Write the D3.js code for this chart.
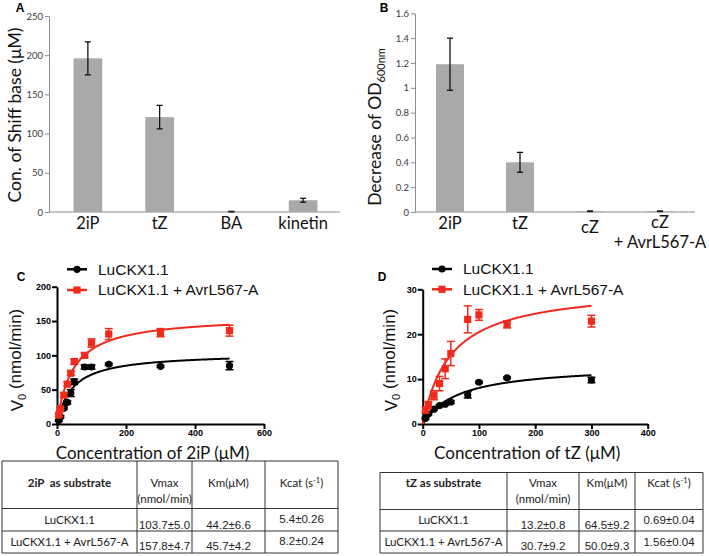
<!DOCTYPE html>
<html><head><meta charset="utf-8">
<script src="https://cdn.jsdelivr.net/npm/d3@7"></script>
<style>body{margin:0;background:#fff} svg{display:block} text{white-space:pre}</style>
</head><body><svg id="c" width="709" height="556"></svg>
<script>
// ---------- DATA ----------
// Panel A
const catsA = ["2iP", "tZ", "BA", "kinetin"];
const valsA = [196, 121, 0.5, 15];
const errA = [21, 15, 0.3, 2.5];
const ticksA = [0, 50, 100, 150, 200, 250];
// Panel B
const catsB = ["2iP", "tZ", "cZ", "cZ\n+ AvrL567-A"];
const valsB = [1.19, 0.40, 0.006, 0.006];
const errB = [0.21, 0.08, 0.002, 0.002];
const ticksB = [0, 0.2, 0.4, 0.6, 0.8, 1, 1.2, 1.4, 1.6];
// Panel C (2iP)
const seriesNames = ["LuCKX1.1", "LuCKX1.1 + AvrL567-A"];
const concC = [5, 10, 20, 30, 40, 50, 80, 100, 150, 300, 500];
const vC_black = [5, 10.5, 23, 31.5, 45, 61.5, 83, 83, 87, 84, 85];
const eC_black = [1, 1.5, 1.5, 2, 5, 4, 3, 3, 1.5, 1.5, 6];
const vC_red = [13, 22, 42, 58, 74, 91, 100, 118, 131, 133, 136];
const eC_red = [2, 2, 3, 3, 3, 4, 3, 6, 8, 6, 8];
const xTicksC = [0, 200, 400, 600];
const yTicksC = [0, 50, 100, 150, 200];
const vmaxC = [103.7, 157.8];
const kmC = [44.2, 45.7];
// Panel D (tZ)
const concD = [5, 10, 20, 30, 40, 50, 80, 100, 150, 300];
const vD_black = [1.3, 2.2, 3.3, 4.1, 4.4, 4.9, 6.5, 9.3, 10.3, 9.8];
const eD_black = [0.2, 0.2, 0.2, 0.2, 0.2, 0.3, 0.7, 0.2, 0.2, 0.6];
const vD_red = [3.1, 4.2, 6.4, 9.0, 12.3, 15.7, 23.3, 24.3, 22.2, 22.9];
const eD_red = [0.6, 0.8, 1.0, 1.6, 2.2, 2.7, 3.0, 1.2, 0.8, 1.3];
const xTicksD = [0, 100, 200, 300, 400];
const yTicksD = [0, 10, 20, 30];
const vmaxD = [13.2, 30.7];
const kmD = [64.5, 50.0];
// Tables
const headC = ["2iP  as substrate", "Vmax\n(nmol/min)", "Km(μM)", "Kcat (s|-1|)"];
const rowsC = [["LuCKX1.1", "103.7±5.0", "44.2±6.6", "5.4±0.26"],
               ["LuCKX1.1 + AvrL567-A", "157.8±4.7", "45.7±4.2", "8.2±0.24"]];
const headD = ["tZ as substrate", "Vmax\n(nmol/min)", "Km(μM)", "Kcat (s|-1|)"];
const rowsD = [["LuCKX1.1", "13.2±0.8", "64.5±9.2", "0.69±0.04"],
               ["LuCKX1.1 + AvrL567-A", "30.7±9.2", "50.0±9.3", "1.56±0.04"]];

// ---------- DRAWING ----------
const svg = d3.select("#c");
svg.append("rect").attr("width", 709).attr("height", 556).attr("fill", "#fff");
const fCal = "Lato, 'Open Sans', sans-serif";
const fAr = "'Liberation Sans', Arial, sans-serif";
const RED = "#f02a1c";

function panelLabel(t, x, y) {
  svg.append("text").attr("x", x).attr("y", y).attr("dy", "0.35em").attr("text-anchor", "middle")
    .attr("font-family", fAr).attr("font-weight", "bold").attr("font-size", 12).text(t);
}

function barPanel(o) {
  const g = svg.append("g");
  const x = d3.scaleBand().domain(o.cats).range(o.xr).paddingInner(0.6).paddingOuter(0.3);
  const y = d3.scaleLinear().domain([0, o.ticks[o.ticks.length - 1]]).range(o.yr);
  const gy = g.append("g").attr("transform", `translate(${o.axisX},0)`)
    .call(d3.axisLeft(y).tickValues(o.ticks).tickSize(4).tickSizeOuter(0).tickPadding(2).tickFormat(o.fmt));
  gy.select(".domain").attr("stroke", "#8c8c8c");
  gy.selectAll(".tick line").attr("stroke", "#8c8c8c");
  gy.selectAll(".tick text").attr("font-family", fCal).attr("font-size", 9.5).attr("fill", "#3a3a3a");
  g.append("line").attr("x1", o.axisX).attr("x2", o.axisEnd).attr("y1", y(0)).attr("y2", y(0))
    .attr("stroke", "#8c8c8c");
  g.selectAll("rect.bar").data(o.vals).join("rect").attr("class", "bar")
    .attr("x", (d, i) => x(o.cats[i])).attr("width", x.bandwidth())
    .attr("y", d => y(d)).attr("height", d => y(0) - y(d)).attr("fill", "#a9a9a9");
  o.vals.forEach((v, i) => {
    const cx = x(o.cats[i]) + x.bandwidth() / 2;
    const yt = y(v + o.errs[i]), yb = y(v - o.errs[i]);
    const e = g.append("g").attr("stroke", "#111").attr("stroke-width", 1.3);
    e.append("line").attr("x1", cx).attr("x2", cx).attr("y1", yt).attr("y2", yb);
    e.append("line").attr("x1", cx - 3).attr("x2", cx + 3).attr("y1", yt).attr("y2", yt);
    e.append("line").attr("x1", cx - 3).attr("x2", cx + 3).attr("y1", yb).attr("y2", yb);
    const lines = o.cats[i].split("\n");
    lines.forEach((ln, j) => {
      g.append("text").attr("x", cx).attr("y", o.labelY + o.labelDy[i] + j * 20).attr("dy", "0.35em")
        .attr("text-anchor", "middle").attr("font-family", fCal).attr("font-size", 16.5).attr("fill", "#111").text(ln);
    });
  });
  const t = g.append("text").attr("transform", `translate(${o.titleX},${o.titleY}) rotate(-90)`)
    .attr("text-anchor", "middle").attr("dy", "0.35em").attr("font-family", fCal).attr("font-size", 17.5).attr("fill", "#111");
  o.title(t);
}

barPanel({
  cats: catsA, vals: valsA, errs: errA, ticks: ticksA, xr: [52, 339], yr: [212, 16],
  axisX: 49, axisEnd: 340, fmt: d3.format("d"), labelY: 223, labelDy: [0, 0, 0, 0],
  titleX: 15, titleY: 115, title: t => t.text("Con. of Shiff base (μM)")
});
barPanel({
  cats: catsB, vals: valsB, errs: errB, ticks: ticksB, xr: [415, 695], yr: [212, 13.3],
  axisX: 415, axisEnd: 695, fmt: d => String(+d.toFixed(1)), labelY: 223, labelDy: [0, 0, 4, -1],
  titleX: 375, titleY: 127, title: t => {
    t.append("tspan").text("Decrease of OD");
    t.append("tspan").attr("font-size", 11).attr("dy", "0.35em").text("600nm");
  }
});
panelLabel("A", 20, 8);
panelLabel("B", 384, 8);

function kinPanel(o) {
  const g = svg.append("g");
  const x = d3.scaleLinear().domain([0, o.xTicks[o.xTicks.length - 1]]).range(o.xr);
  const y = d3.scaleLinear().domain([0, o.yTicks[o.yTicks.length - 1]]).range(o.yr);
  const gx = g.append("g").attr("transform", `translate(0,${o.yr[0]})`)
    .call(d3.axisBottom(x).tickValues(o.xTicks).tickSize(5).tickSizeOuter(0).tickPadding(1));
  const gy = g.append("g").attr("transform", `translate(${o.xr[0]},0)`)
    .call(d3.axisLeft(y).tickValues(o.yTicks).tickSize(5).tickSizeOuter(0).tickPadding(1));
  [gx, gy].forEach(a => {
    a.select(".domain").attr("stroke", "#000").attr("stroke-width", 2);
    a.selectAll(".tick line").attr("stroke", "#000").attr("stroke-width", 2);
    a.selectAll(".tick text").attr("font-family", fAr).attr("font-weight", "bold").attr("font-size", 9).attr("fill", "#000");
  });
  const series = [
    { v: o.vb, e: o.eb, c: "#000", shape: "circle" },
    { v: o.vr, e: o.er, c: RED, shape: "square" }
  ];
  const line = d3.line().x(d => x(d[0])).y(d => y(d[1]));
  series.forEach((s, k) => {
    const xs = o.conc;
    const lo = o.curveStart[k], hi = xs[xs.length - 1];
    const pts = d3.range(0, 201).map(i => lo + (hi - lo) * i / 200).map(c => [c, o.vmax[k] * c / (o.km[k] + c)]);
    g.append("path").attr("d", line(pts)).attr("fill", "none").attr("stroke", s.c).attr("stroke-width", 2);
  });
  series.forEach(s => {
    const gg = g.append("g");
    o.conc.forEach((c, i) => {
      const cx = x(c), yt = y(s.v[i] + s.e[i]), yb = y(Math.max(0, s.v[i] - s.e[i]));
      gg.append("line").attr("x1", cx).attr("x2", cx).attr("y1", yt).attr("y2", yb).attr("stroke", s.c).attr("stroke-width", 1.5);
      [yt, yb].forEach(yy => gg.append("line").attr("x1", cx - 4).attr("x2", cx + 4).attr("y1", yy).attr("y2", yy)
        .attr("stroke", s.c).attr("stroke-width", 1.5));
      if (s.shape === "circle") gg.append("circle").attr("cx", cx).attr("cy", y(s.v[i])).attr("r", 3.6).attr("fill", s.c);
      else gg.append("rect").attr("x", cx - 3.6).attr("y", y(s.v[i]) - 3.6).attr("width", 7.2).attr("height", 7.2).attr("fill", s.c);
    });
  });
  // legend
  series.forEach((s, k) => {
    const ly = o.legY[k];
    g.append("line").attr("x1", o.legX).attr("x2", o.legX + 20).attr("y1", ly).attr("y2", ly).attr("stroke", s.c).attr("stroke-width", 2.5);
    if (s.shape === "circle") g.append("circle").attr("cx", o.legX + 10).attr("cy", ly).attr("r", 3.6).attr("fill", s.c);
    else g.append("rect").attr("x", o.legX + 6.4).attr("y", ly - 3.6).attr("width", 7.2).attr("height", 7.2).attr("fill", s.c);
    g.append("text").attr("x", o.legX + 31).attr("y", ly).attr("dy", "0.35em").attr("font-family", fAr)
      .attr("font-size", 15.5).attr("fill", "#111").text(seriesNames[k]);
  });
  // titles
  g.append("text").attr("x", (o.xr[0] + o.xr[1]) / 2 - 8).attr("y", 453).attr("dy", "0.35em").attr("text-anchor", "middle")
    .attr("font-family", fCal).attr("font-size", 17).attr("fill", "#111").text(o.xTitle);
  const t = g.append("text").attr("transform", `translate(${o.yTitleX},360) rotate(-90)`).attr("text-anchor", "middle")
    .attr("dy", "0.35em").attr("font-family", fAr).attr("font-size", 17).attr("fill", "#111");
  t.append("tspan").text("V");
  t.append("tspan").attr("font-size", 11).attr("dy", "0.3em").text("0");
  t.append("tspan").attr("dy", "-0.3em").attr("font-size", 17).text(" (nmol/min)");
}

kinPanel({
  conc: concC, vb: vC_black, eb: eC_black, vr: vC_red, er: eC_red, vmax: vmaxC, km: kmC,
  curveStart: [0, 5], xTicks: xTicksC, yTicks: yTicksC, xr: [57, 264], yr: [424, 286.7],
  legX: 67, legY: [269.3, 290], xTitle: "Concentration of 2iP (μM)", yTitleX: 17
});
kinPanel({
  conc: concD, vb: vD_black, eb: eD_black, vr: vD_red, er: eD_red, vmax: vmaxD, km: kmD,
  curveStart: [0, 0], xTicks: xTicksD, yTicks: yTicksD, xr: [422.7, 647.7], yr: [424, 289.3],
  legX: 432, legY: [269, 289.3], xTitle: "Concentration of tZ (μM)", yTitleX: 391
});
panelLabel("C", 21, 277);
panelLabel("D", 382, 277);

function table(o) {
  const g = svg.append("g");
  const x0 = o.xs[0], x1 = o.xs[o.xs.length - 1], y0 = o.ys[0], y1 = o.ys[o.ys.length - 1];
  o.xs.forEach(xx => g.append("line").attr("x1", xx).attr("x2", xx).attr("y1", y0).attr("y2", y1).attr("stroke", "#333").attr("stroke-width", 1));
  o.ys.forEach(yy => g.append("line").attr("x1", x0).attr("x2", x1).attr("y1", yy).attr("y2", yy).attr("stroke", "#333").attr("stroke-width", 1));
  const cxs = d3.range(4).map(i => (o.xs[i] + o.xs[i + 1]) / 2);
  o.head.forEach((h, i) => {
    const parts = h.split("\n");
    parts.forEach((p, j) => {
      const t = g.append("text").attr("x", cxs[i]).attr("y", 483 + j * 16).attr("dy", "0.35em").attr("text-anchor", "middle")
        .attr("font-family", fCal).attr("font-size", 11.5).attr("font-weight", i === 0 ? "bold" : "normal").attr("fill", "#222");
      const seg = p.split("|");
      seg.forEach((s, k) => {
        const ts = t.append("tspan").text(s);
        if (k === 1) ts.attr("font-size", 7.5).attr("baseline-shift", "super");
      });
    });
  });
  o.rows.forEach((r, ri) => {
    r.forEach((cell, ci) => {
      const isNum = ci > 0;
      const yy = ci === 0 ? o.labY[ri] : (ci === 3 ? o.kY[ri] : o.numY[ri]);
      g.append("text").attr("x", cxs[ci]).attr("y", yy).attr("dy", "0.35em").attr("text-anchor", "middle")
        .attr("font-family", isNum ? fAr : fCal).attr("font-size", isNum ? 11.5 : 11.5).attr("fill", "#222").text(cell);
    });
  });
}
table({ xs: [2, 137, 192, 265, 338], ys: [461, 508.5, 531, 553], head: headC, rows: rowsC,
  labY: [520, 541.5], numY: [525, 546], kY: [518.5, 540.5] });
table({ xs: [380, 507, 579, 635, 703], ys: [472.5, 509.5, 531, 553], head: headD, rows: rowsD,
  labY: [520, 541.5], numY: [525, 546], kY: [519.5, 541.5] });
</script>
</body></html>
